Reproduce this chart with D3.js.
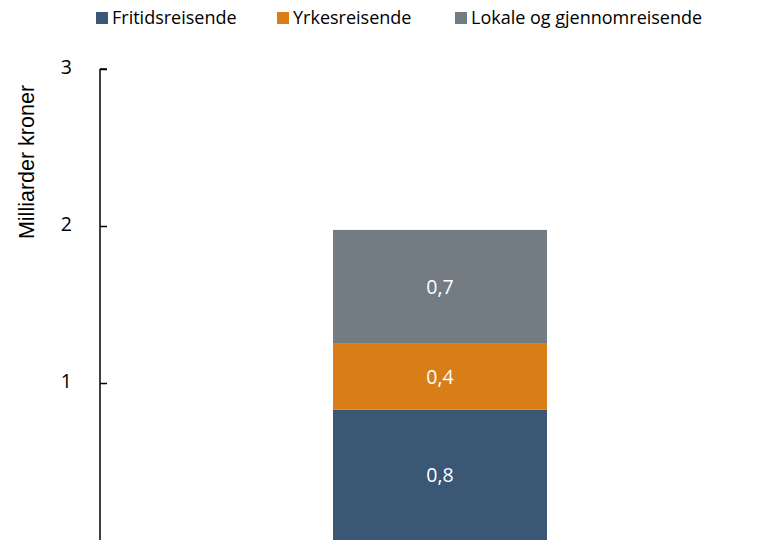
<!DOCTYPE html>
<html>
<head>
<meta charset="utf-8">
<script src="https://cdn.jsdelivr.net/npm/d3@7"></script>
<style>
  body { margin: 0; background: #fff; }
  svg { display: block; font-family: 'Open Sans', sans-serif; }
</style>
</head>
<body>
<div id="svg-container"></div>
<script>
// chart data
const categories = ['Totalt'];
const seriesNames = ['Fritidsreisende', 'Yrkesreisende', 'Lokale og gjennomreisende'];
const seriesColors = ['#3a5775', '#d97e16', '#737b83'];
const fritids = [0.83];
const yrkes = [0.42];
const lokale = [0.725];
const valueLabels = [['0,8'], ['0,4'], ['0,7']];
const yTicks = [1, 2, 3];

const svgWidth = 768;
const svgHeight = 540;

const svg = d3.select('#svg-container')
.append('svg')
.attr('width', svgWidth)
.attr('height', svgHeight);

const y = d3.scaleLinear()
.domain([0, 3])
.range([540, 69]);

const x = d3.scaleBand()
.domain(categories)
.range([100, 780])
.paddingInner(0)
.paddingOuter(1.089);

// build stacked rows from the series arrays
const rows = categories.map((c, i) => ({
    cat: c,
    [seriesNames[0]]: fritids[i],
    [seriesNames[1]]: yrkes[i],
    [seriesNames[2]]: lokale[i]
}));

const stack = d3.stack().keys(seriesNames)(rows);

const layers = svg.append('g')
.selectAll('g')
.data(stack)
.enter()
.append('g')
.attr('fill', (d, i) => seriesColors[i]);

layers.selectAll('rect')
.data(d => d)
.enter()
.append('rect')
.attr('x', d => x(d.data.cat))
.attr('width', x.bandwidth())
.attr('y', d => y(d[1]))
.attr('height', d => y(d[0]) - y(d[1]));

// value labels inside segments
stack.forEach((layer, si) => {
    svg.append('g')
    .selectAll('text')
    .data(layer)
    .enter()
    .append('text')
    .attr('x', d => x(d.data.cat) + x.bandwidth() / 2)
    .attr('y', d => y((d[0] + d[1]) / 2))
    .attr('dy', '0.36em')
    .attr('text-anchor', 'middle')
    .attr('fill', '#fff')
    .style('font-size', '19.5px')
    .text((d, i) => valueLabels[si][i]);
});

// y axis
const yAxis = svg.append('g')
.attr('transform', 'translate(100,0)')
.call(d3.axisRight(y).tickValues(yTicks).tickSize(7).tickFormat(d3.format('d')));

yAxis.select('.domain')
.attr('d', `M0,${y(3)}V${svgHeight + 5}M0,${y(3)}h7`)
.attr('stroke', '#000')
.attr('stroke-width', 1.5);

yAxis.selectAll('.tick line').attr('stroke', '#000').attr('stroke-width', 1.5);
yAxis.selectAll('.tick text')
.attr('x', -28)
.attr('dy', '0.25em')
.attr('text-anchor', 'end')
.style('font-size', '19.5px')
.style('font-family', "'Open Sans', sans-serif")
.attr('fill', '#000');

svg.append('text')
.attr('transform', 'translate(34,162) rotate(-90)')
.attr('text-anchor', 'middle')
.style('font-family', "'Liberation Sans', Arial, sans-serif")
.style('font-size', '21.5px')
.attr('fill', '#000')
.text('Milliarder kroner');

// legend
const legendX = [96, 277, 455];
const legend = svg.append('g')
.selectAll('g')
.data(seriesNames)
.enter()
.append('g')
.attr('transform', (d, i) => `translate(${legendX[i]},18)`);

legend.append('rect')
.attr('x', 0)
.attr('y', -6)
.attr('width', 12)
.attr('height', 12)
.attr('fill', (d, i) => seriesColors[i]);

legend.append('text')
.attr('x', 16)
.attr('dy', '0.35em')
.style('font-size', '18px')
.attr('fill', '#000')
.text(d => d);
</script>
</body>
</html>
